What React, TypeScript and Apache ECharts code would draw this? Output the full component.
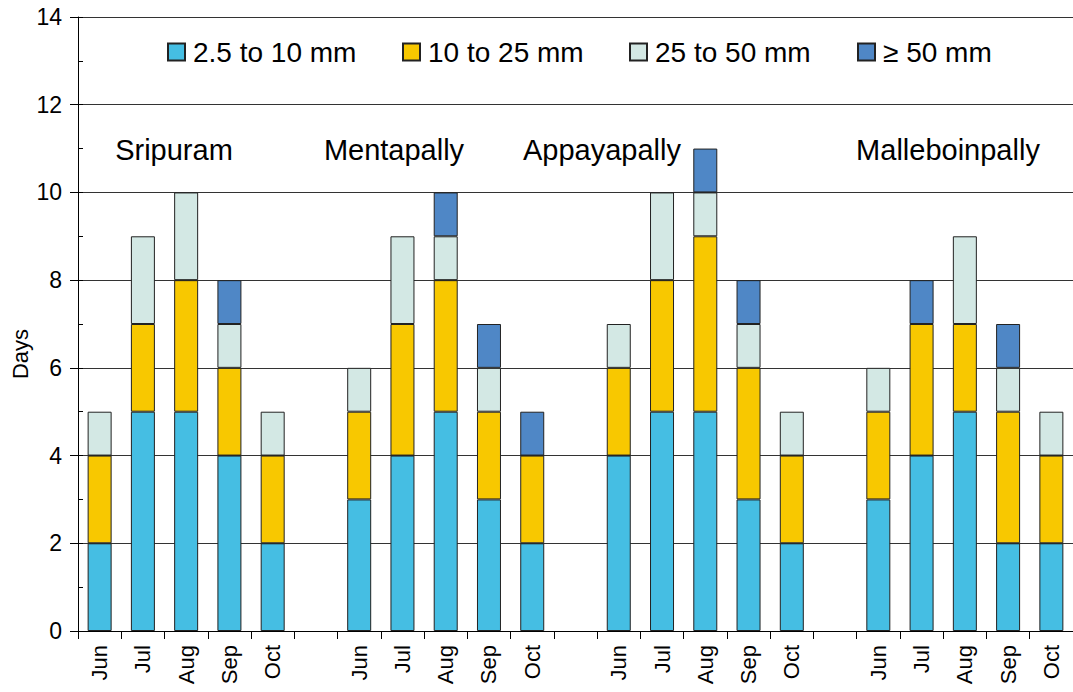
import React, { useEffect, useRef } from "react";
import * as echarts from "echarts";

const categories = [
  "Jun", "Jul", "Aug", "Sep", "Oct", "",
  "Jun", "Jul", "Aug", "Sep", "Oct", "",
  "Jun", "Jul", "Aug", "Sep", "Oct", "",
  "Jun", "Jul", "Aug", "Sep", "Oct",
];

const seriesNames = ["2.5 to 10 mm", "10 to 25 mm", "25 to 50 mm", "\u2265 50 mm"];

const s2_5to10 = [2, 5, 5, 4, 2, null, 3, 4, 5, 3, 2, null, 4, 5, 5, 3, 2, null, 3, 4, 5, 2, 2];
const s10to25 = [2, 2, 3, 2, 2, null, 2, 3, 3, 2, 2, null, 2, 3, 4, 3, 2, null, 2, 3, 2, 3, 2];
const s25to50 = [1, 2, 2, 1, 1, null, 1, 2, 1, 1, 0, null, 1, 2, 1, 1, 1, null, 1, 0, 2, 1, 1];
const s50plus = [0, 0, 0, 1, 0, null, 0, 0, 1, 1, 1, null, 0, 0, 1, 1, 0, null, 0, 1, 0, 1, 0];

const stations = ["Sripuram", "Mentapally", "Appayapally", "Malleboinpally"];
const stationX = [174, 394, 602, 948];
const legendX = [167, 402, 629, 857];

const colors = ["#45BEE3", "#F8C800", "#D3E8E4", "#4F87C6"];

const FONT = "'Liberation Sans', Arial, Helvetica, sans-serif";

export default function App() {
  const ref = useRef<HTMLDivElement>(null);
  useEffect(() => {
    if (!ref.current) return;
    const chart = echarts.init(ref.current, undefined, { renderer: "svg" });
    const datasets = [s2_5to10, s10to25, s25to50, s50plus];
    const clean = (arr: (number | null)[]) => arr.map((v) => (v === 0 ? null : v));
    chart.setOption({
      animation: false,
      backgroundColor: "#ffffff",
      textStyle: { fontFamily: FONT },
      grid: { left: 78, top: 17, width: 1003, height: 614, containLabel: false },
      legend: seriesNames.map((n, i) => ({
        data: [n],
        left: legendX[i],
        top: 38,
        padding: 0,
        icon: "rect",
        itemWidth: 17,
        itemHeight: 17,
        itemGap: 0,
        textStyle: { fontSize: 28, color: "#000", fontFamily: FONT, padding: [0, 0, 0, 3] },
      })),
      xAxis: {
        type: "category",
        data: categories,
        axisLine: { lineStyle: { color: "#000", width: 1 } },
        axisTick: { show: true, interval: 0, length: 8, lineStyle: { color: "#000" } },
        axisLabel: { interval: 0, rotate: 90, fontSize: 22, color: "#000", margin: 14, fontFamily: FONT },
      },
      yAxis: [
        {
          type: "value",
          min: 0,
          max: 14,
          interval: 2,
          axisLine: { show: true, lineStyle: { color: "#000", width: 1 } },
          axisTick: { show: true, length: 8, lineStyle: { color: "#000" } },
          axisLabel: { fontSize: 23, color: "#000", margin: 16, fontFamily: FONT },
          splitLine: { show: true, lineStyle: { color: "#333", width: 1 } },
        },
        {
          type: "value",
          min: 0,
          max: 14,
          interval: 1,
          position: "left",
          axisLine: { show: false },
          axisTick: { show: true, inside: true, length: 5, lineStyle: { color: "#000" } },
          axisLabel: { show: false },
          splitLine: { show: false },
        },
      ],
      series: datasets.map((d, i) => ({
        name: seriesNames[i],
        type: "bar",
        stack: "days",
        yAxisIndex: 0,
        barWidth: 24,
        data: clean(d),
        itemStyle: { color: colors[i], borderColor: "#222", borderWidth: 1 },
      })),
      graphic: [
        ...stations.map((s, i) => ({
          type: "text",
          x: stationX[i],
          y: 150,
          style: {
            text: s,
            fontSize: 29,
            fontFamily: FONT,
            fill: "#000",
            align: "center",
            verticalAlign: "middle",
          },
        })),
        {
          type: "text",
          x: 20,
          y: 354,
          rotation: Math.PI / 2,
          style: {
            text: "Days",
            fontSize: 22,
            fontFamily: FONT,
            fill: "#000",
            align: "center",
            verticalAlign: "middle",
          },
        },
      ],
    });
    return () => chart.dispose();
  }, []);
  return (
    <div
      ref={ref}
      style={{ position: "fixed", left: 0, top: 0, width: 1073, height: 692, background: "#fff" }}
    />
  );
}
